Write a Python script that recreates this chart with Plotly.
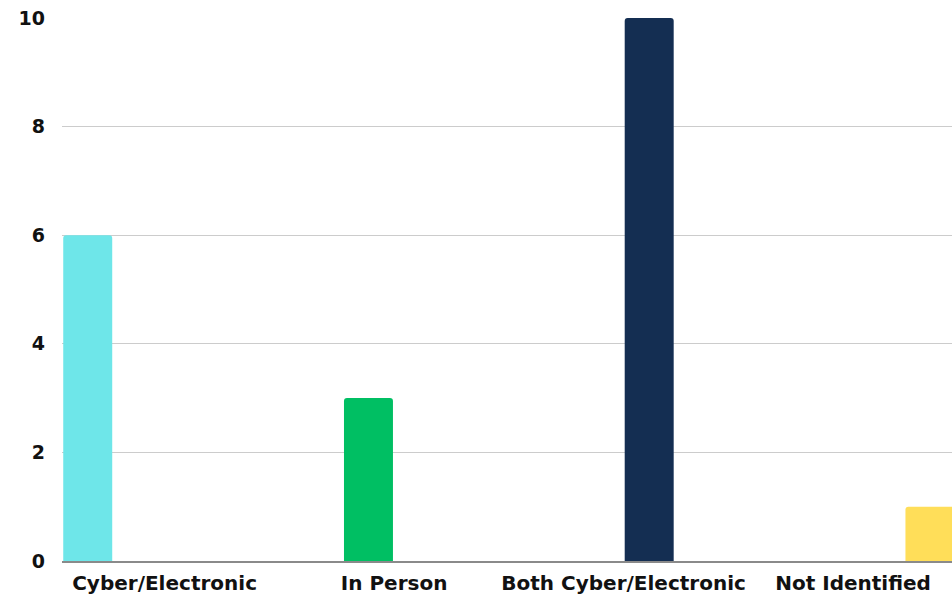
import plotly.graph_objects as go

categories = ["Cyber/Electronic", "In Person", "Both Cyber/Electronic", "Not Identified"]
values = [6, 3, 10, 1]
colors = ["#6EE6E9", "#00BF63", "#142E52", "#FFDE59"]
y_ticks = [0, 2, 4, 6, 8, 10]

fig = go.Figure()
for i, (cat, val, col) in enumerate(zip(categories, values, colors)):
    ys = [val if j == i else None for j in range(len(categories))]
    fig.add_trace(go.Bar(x=categories, y=ys, name=cat, marker_color=col,
                         marker_line_width=0, showlegend=False))

font_family = "DejaVu Sans, sans-serif"
fig.update_layout(
    width=952, height=596,
    margin=dict(l=62, r=0, t=18, b=35),
    barmode="group", bargap=0.107, bargroupgap=0.044, barcornerradius=3,
    plot_bgcolor="white", paper_bgcolor="white",
    font=dict(family=font_family, size=19, color="#111111"),
)
fig.update_xaxes(range=[-0.447, 3.431], showgrid=False, showline=True,
                 linecolor="#8a8a8a", linewidth=1.5, ticks="",
                 tickfont=dict(family=font_family, size=20, weight="bold", color="#111111"),
                 ticklabelstandoff=3)
fig.update_yaxes(range=[0, 10], tickvals=y_ticks, showgrid=True, gridcolor="#cccccc",
                 gridwidth=1, zeroline=False, showline=False, ticks="",
                 tickfont=dict(family=font_family, size=19, weight="bold", color="#111111"),
                 ticklabelstandoff=16)
fig.write_html("out.html")
